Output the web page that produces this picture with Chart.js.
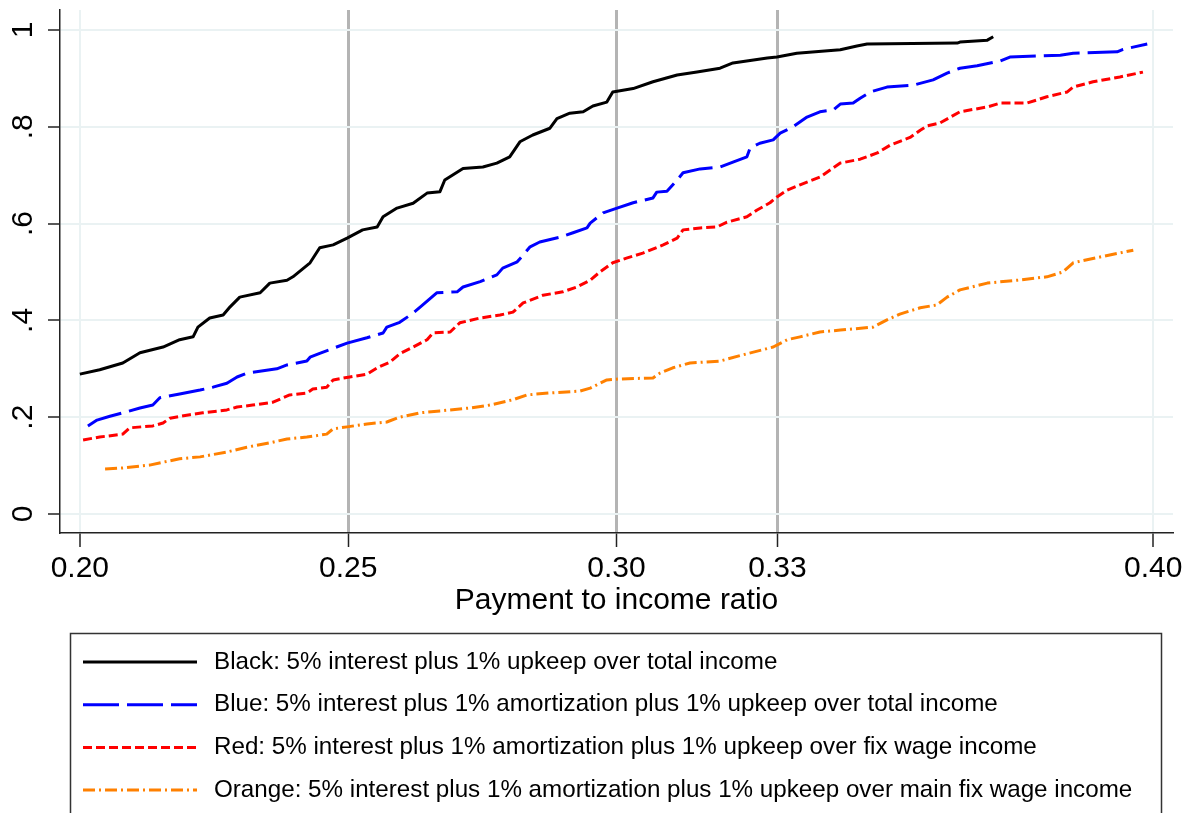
<!DOCTYPE html>
<html>
<head>
<meta charset="utf-8">
<script src="https://cdn.jsdelivr.net/npm/chart.js@4"></script>
<style>
  html, body { margin: 0; padding: 0; background: #fff; }
  canvas { display: block; }
</style>
</head>
<body>
<canvas id="cdf" width="1192" height="813"></canvas>
<script>
// axis ticks
const xTicks = [0.20, 0.25, 0.30, 0.33, 0.40];
const xTickLabels = ['0.20', '0.25', '0.30', '0.33', '0.40'];
const refLines = [0.25, 0.30, 0.33];
const yTicks = [0, 0.2, 0.4, 0.6, 0.8, 1];
const yTickLabels = ['0', '.2', '.4', '.6', '.8', '1'];

// series
const blackX = [0.2000,0.2037,0.2080,0.2112,0.2155,0.2186,0.2211,0.2220,0.2242,0.2267,0.2280,0.2298,0.2336,0.2354,0.2386,0.2397,0.2429,0.2447,0.2472,0.2498,0.2527,0.2554,0.2565,0.2591,0.2621,0.2647,0.2671,0.2680,0.2714,0.2751,0.2777,0.2801,0.2820,0.2844,0.2876,0.2889,0.2913,0.2938,0.2956,0.2982,0.2993,0.3031,0.3068,0.3113,0.3150,0.3193,0.3217,0.3281,0.3299,0.3336,0.3417,0.3448,0.3467,0.3635,0.3640,0.3691,0.3702];
const blackY = [0.289,0.298,0.312,0.333,0.345,0.360,0.366,0.386,0.405,0.411,0.428,0.448,0.457,0.477,0.483,0.490,0.519,0.550,0.556,0.570,0.587,0.593,0.614,0.632,0.642,0.663,0.666,0.690,0.714,0.717,0.725,0.738,0.769,0.783,0.797,0.817,0.828,0.831,0.843,0.851,0.872,0.879,0.893,0.907,0.913,0.921,0.932,0.942,0.944,0.952,0.959,0.967,0.971,0.973,0.975,0.979,0.986];

const blueX = [0.2015,0.2032,0.2056,0.2080,0.2112,0.2136,0.2149,0.2186,0.2224,0.2248,0.2274,0.2293,0.2311,0.2367,0.2386,0.2423,0.2429,0.2447,0.2498,0.2535,0.2565,0.2572,0.2596,0.2621,0.2639,0.2665,0.2703,0.2714,0.2746,0.2777,0.2788,0.2815,0.2826,0.2839,0.2857,0.2895,0.2919,0.2945,0.2951,0.2975,0.3001,0.3031,0.3068,0.3075,0.3094,0.3113,0.3124,0.3156,0.3193,0.3217,0.3243,0.3249,0.3267,0.3292,0.3305,0.3329,0.3355,0.3379,0.3404,0.3417,0.3441,0.3454,0.3473,0.3504,0.3553,0.3590,0.3616,0.3640,0.3672,0.3715,0.3733,0.3827,0.3851,0.3933,0.3944,0.3989];
const blueY = [0.182,0.194,0.202,0.209,0.219,0.225,0.240,0.248,0.256,0.262,0.270,0.283,0.291,0.300,0.308,0.316,0.324,0.332,0.353,0.364,0.374,0.386,0.396,0.415,0.432,0.457,0.459,0.469,0.480,0.494,0.508,0.521,0.535,0.552,0.562,0.572,0.581,0.591,0.601,0.622,0.632,0.643,0.653,0.665,0.667,0.690,0.705,0.713,0.717,0.727,0.738,0.756,0.766,0.773,0.787,0.800,0.820,0.831,0.835,0.847,0.849,0.859,0.872,0.882,0.886,0.897,0.911,0.921,0.926,0.936,0.944,0.948,0.952,0.955,0.960,0.971];

const redX = [0.2006,0.2037,0.2080,0.2093,0.2136,0.2155,0.2168,0.2205,0.2229,0.2274,0.2293,0.2322,0.2360,0.2391,0.2423,0.2434,0.2460,0.2472,0.2503,0.2535,0.2554,0.2578,0.2596,0.2621,0.2647,0.2658,0.2690,0.2708,0.2746,0.2783,0.2807,0.2826,0.2863,0.2900,0.2926,0.2951,0.2969,0.2993,0.3020,0.3049,0.3087,0.3113,0.3124,0.3156,0.3187,0.3206,0.3243,0.3262,0.3286,0.3299,0.3318,0.3342,0.3379,0.3417,0.3454,0.3486,0.3510,0.3547,0.3566,0.3579,0.3603,0.3640,0.3691,0.3715,0.3765,0.3802,0.3840,0.3851,0.3888,0.3938,0.3981];
const redY = [0.153,0.159,0.165,0.178,0.182,0.188,0.198,0.205,0.209,0.215,0.221,0.225,0.231,0.246,0.250,0.258,0.262,0.277,0.283,0.289,0.302,0.314,0.331,0.345,0.360,0.374,0.376,0.395,0.405,0.411,0.417,0.436,0.452,0.459,0.469,0.483,0.500,0.519,0.529,0.539,0.556,0.570,0.587,0.591,0.593,0.603,0.614,0.628,0.643,0.655,0.669,0.680,0.696,0.725,0.733,0.746,0.762,0.778,0.793,0.802,0.808,0.831,0.841,0.849,0.849,0.862,0.872,0.882,0.893,0.903,0.913];

const orangeX = [0.2047,0.2080,0.2130,0.2155,0.2186,0.2224,0.2274,0.2311,0.2354,0.2386,0.2423,0.2460,0.2472,0.2498,0.2535,0.2572,0.2596,0.2634,0.2671,0.2727,0.2764,0.2807,0.2833,0.2876,0.2932,0.2951,0.2982,0.3007,0.3068,0.3081,0.3105,0.3137,0.3193,0.3236,0.3292,0.3318,0.3342,0.3379,0.3417,0.3478,0.3504,0.3528,0.3566,0.3597,0.3616,0.3640,0.3691,0.3747,0.3802,0.3832,0.3851,0.3901,0.3963];
const orangeY = [0.093,0.095,0.101,0.107,0.114,0.118,0.128,0.138,0.147,0.155,0.159,0.165,0.176,0.180,0.186,0.190,0.200,0.209,0.213,0.219,0.225,0.236,0.246,0.250,0.254,0.260,0.277,0.279,0.281,0.291,0.302,0.312,0.316,0.329,0.345,0.360,0.366,0.376,0.380,0.386,0.401,0.413,0.426,0.432,0.448,0.463,0.477,0.483,0.490,0.500,0.519,0.531,0.545];

const seriesLabels = [
  'Black: 5% interest plus 1% upkeep over total income',
  'Blue: 5% interest plus 1% amortization plus 1% upkeep over total income',
  'Red: 5% interest plus 1% amortization plus 1% upkeep over fix wage income',
  'Orange: 5% interest plus 1% amortization plus 1% upkeep over main fix wage income'
];

function pts(xs, ys) {
  return xs.map((x, i) => ({x: x, y: ys[i]}));
}

const FONT = '"Liberation Sans", Arial, sans-serif';
Chart.defaults.font.family = FONT;
Chart.defaults.color = '#000';

// boxed legend under the plot, Stata style
const boxLegend = {
  id: 'boxLegend',
  afterDraw(chart) {
    const ctx = chart.ctx;
    ctx.save();
    ctx.strokeStyle = '#333';
    ctx.lineWidth = 1.5;
    ctx.strokeRect(70.5, 633.5, 1091, 220);
    chart.data.datasets.forEach((ds, i) => {
      const y = 662 + i * 42.7;
      ctx.strokeStyle = ds.borderColor;
      ctx.lineWidth = ds.borderWidth;
      ctx.setLineDash(ds.borderDash || []);
      ctx.beginPath();
      ctx.moveTo(83, y);
      ctx.lineTo(197, y);
      ctx.stroke();
      ctx.setLineDash([]);
      ctx.fillStyle = '#000';
      ctx.font = '24.2px ' + FONT;
      ctx.textBaseline = 'middle';
      ctx.textAlign = 'left';
      ctx.fillText(ds.label, 214, y);
    });
    ctx.restore();
  }
};

new Chart(document.getElementById('cdf'), {
  type: 'line',
  data: {
    datasets: [
      {label: seriesLabels[0], data: pts(blackX, blackY), borderColor: '#000000', borderWidth: 3},
      {label: seriesLabels[1], data: pts(blueX, blueY), borderColor: '#0000ff', borderWidth: 3, borderDash: [36, 8]},
      {label: seriesLabels[2], data: pts(redX, redY), borderColor: '#ff0000', borderWidth: 3, borderDash: [9, 4]},
      {label: seriesLabels[3], data: pts(orangeX, orangeY), borderColor: '#ff8000', borderWidth: 3, borderDash: [12, 4, 2, 4]}
    ]
  },
  options: {
    responsive: false,
    animation: false,
    elements: {
      point: {radius: 0},
      line: {tension: 0, fill: false, borderJoinStyle: 'round'}
    },
    layout: {padding: {left: 0, right: 19, top: 10, bottom: 194}},
    plugins: {
      legend: {display: false},
      tooltip: {enabled: false}
    },
    scales: {
      x: {
        type: 'linear',
        min: 0.1963,
        max: 0.4037,
        afterBuildTicks: (scale) => { scale.ticks = xTicks.map(v => ({value: v})); },
        afterFit: (scale) => { scale.height = 86; scale.paddingLeft = 0; scale.paddingRight = 0; },
        ticks: {
          font: {size: 30},
          color: '#000',
          padding: 4,
          maxRotation: 0,
          autoSkip: false,
          callback: (v, i) => xTickLabels[i]
        },
        grid: {
          color: (c) => refLines.includes(c.tick && c.tick.value) ? '#b4b4b4' : '#eaf2f3',
          lineWidth: (c) => refLines.includes(c.tick && c.tick.value) ? 3 : 2,
          tickColor: '#222',
          tickWidth: 1.5,
          tickLength: 14
        },
        border: {color: '#222', width: 1.5},
        title: {
          display: true,
          text: 'Payment to income ratio',
          font: {size: 30},
          color: '#000',
          padding: {top: 0, bottom: 0}
        }
      },
      y: {
        type: 'linear',
        min: -0.0393,
        max: 1.0413,
        afterBuildTicks: (scale) => { scale.ticks = yTicks.map(v => ({value: v})); },
        afterFit: (scale) => { scale.width = 60; scale.paddingTop = 0; scale.paddingBottom = 0; },
        ticks: {
          font: {size: 30},
          color: '#000',
          padding: 12,
          minRotation: 90,
          maxRotation: 90,
          crossAlign: 'center',
          autoSkip: false,
          callback: (v, i) => yTickLabels[i]
        },
        grid: {
          color: '#eaf2f3',
          lineWidth: 2,
          tickColor: '#222',
          tickWidth: 1.5,
          tickLength: 12
        },
        border: {color: '#222', width: 1.5}
      }
    }
  },
  plugins: [boxLegend]
});
</script>
</body>
</html>
